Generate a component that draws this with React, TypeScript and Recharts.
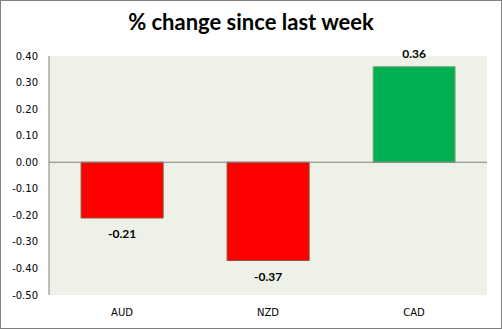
import { Bar, BarChart, CartesianGrid, Cell, LabelList, ReferenceLine, XAxis, YAxis } from "recharts";

const currencies = ["AUD", "NZD", "CAD"];
const changes = [-0.21, -0.37, 0.36];
const yTicks = [0.4, 0.3, 0.2, 0.1, 0, -0.1, -0.2, -0.3, -0.4, -0.5];

const data = currencies.map((name, i) => ({ name, value: changes[i] }));

const W = 502;
const H = 329;

function ValueLabel(props: any) {
  const { x, y, width, height, value } = props;
  const top = Math.min(y, y + height);
  const bottom = Math.max(y, y + height);
  const cy = value < 0 ? bottom + 16 : top - 13;
  return (
    <text
      x={x + width / 2}
      y={cy}
      textAnchor="middle"
      dominantBaseline="central"
      fontFamily="Lato, 'Open Sans', sans-serif"
      fontWeight={700}
      fontSize={12}
      fill="#000"
    >
      {Number(value).toFixed(2)}
    </text>
  );
}

export default function App() {
  return (
    <div style={{ position: "fixed", left: 0, top: 0, width: W, height: H, background: "#fff" }}>
      <div
        style={{
          position: "absolute",
          left: 0,
          top: 8,
          width: W,
          textAlign: "center",
          fontFamily: "Lato, 'Open Sans', sans-serif",
          fontWeight: 700,
          fontSize: 22,
          color: "#000",
        }}
      >
        % change since last week
      </div>
      <div style={{ position: "absolute", left: 0, top: 0 }}>
        <BarChart
          width={W}
          height={H}
          data={data}
          margin={{ top: 56, right: 15, bottom: 0, left: 0 }}
          barCategoryGap="22%"
        >
          <CartesianGrid horizontal={false} vertical={false} fill="#EEF1E8" />
          <XAxis
            dataKey="name"
            axisLine={false}
            tickLine={false}
            tickSize={0}
            tickMargin={14}
            height={34}
            tick={{ fontFamily: "'DejaVu Sans', Verdana, sans-serif", fontSize: 10, fill: "#000" }}
          />
          <YAxis
            width={49}
            domain={[-0.5, 0.4]}
            ticks={yTicks}
            interval={0}
            tickFormatter={(v: number) => v.toFixed(2)}
            axisLine={{ stroke: "#808080" }}
            tickLine={false}
            tickSize={0}
            tickMargin={11}
            tick={{ fontFamily: "'DejaVu Sans', Verdana, sans-serif", fontSize: 10, fill: "#000" }}
          />
          <ReferenceLine y={0} stroke="#808080" strokeWidth={1} />
          <Bar dataKey="value" isAnimationActive={false}>
            {data.map((d) => (
              <Cell
                key={d.name}
                fill={d.value < 0 ? "#FF0000" : "#00B050"}
                stroke={d.value < 0 ? "#984B2E" : "#8AA88A"}
                strokeWidth={1}
              />
            ))}
            <LabelList dataKey="value" content={ValueLabel} />
          </Bar>
        </BarChart>
      </div>
      <div
        style={{
          position: "absolute",
          left: 0,
          top: 0,
          width: W,
          height: H,
          boxSizing: "border-box",
          border: "1px solid #7F7F7F",
          pointerEvents: "none",
        }}
      />
    </div>
  );
}
